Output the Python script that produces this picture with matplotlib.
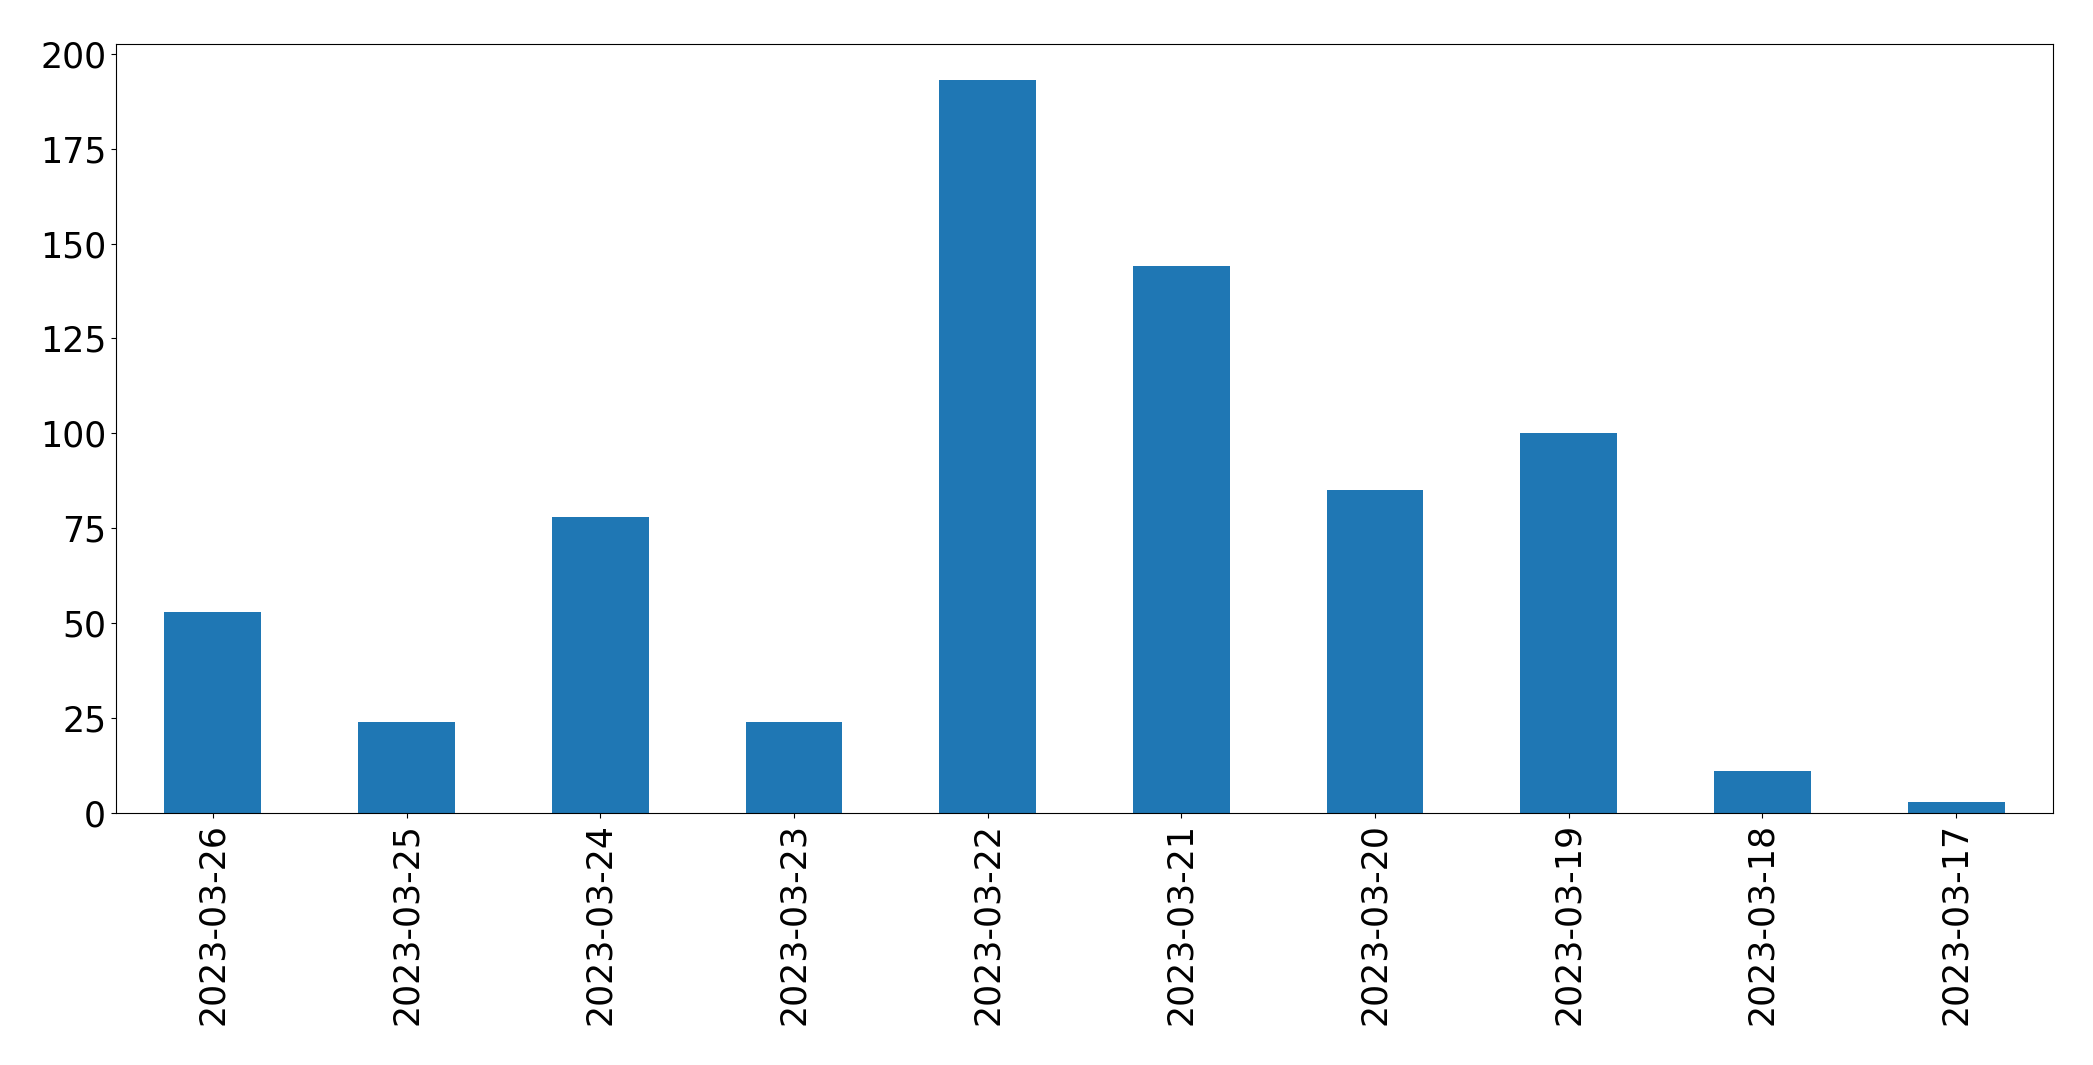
import matplotlib
matplotlib.use("Agg")
import numpy as np
from matplotlib import pyplot as plt

# data
dates = ["2023-03-26", "2023-03-25", "2023-03-24", "2023-03-23", "2023-03-22",
         "2023-03-21", "2023-03-20", "2023-03-19", "2023-03-18", "2023-03-17"]
counts = [53, 24, 78, 24, 193, 144, 85, 100, 11, 3]

fig = plt.figure(figsize=(20.93, 10.65), dpi=100)
ax = fig.add_axes([0.0554, 0.2366, 0.9255, 0.7224])

x = np.arange(len(dates))
ax.bar(x, counts, width=0.5, color="#1f77b4")
ax.set_xlim(-0.5, len(dates) - 0.5)
ax.set_ylim(0, max(counts) * 1.05)
ax.set_xticks(x)
ax.set_xticklabels(dates, rotation=90)
ax.tick_params(labelsize=25)

fig.savefig("out.png", dpi=100)
